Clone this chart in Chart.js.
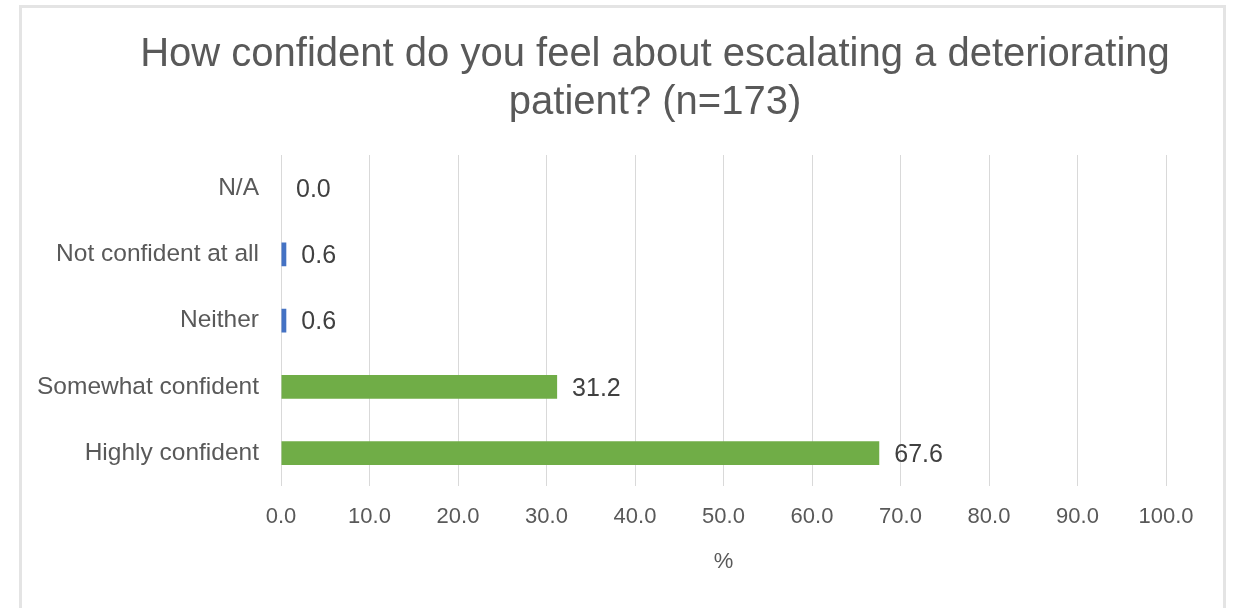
<!DOCTYPE html>
<html>
<head>
    <title>Escalation confidence</title>
    <script src="https://cdn.jsdelivr.net/npm/chart.js"></script>
    <style>
        body { margin: 0; overflow: hidden; background: #fff; }
        #frame {
            position: absolute; left: 19px; top: 5px;
            width: 1201px; height: 700px;
            border: 3px solid #e4e4e4;
        }
        #wrap { position: absolute; left: 0; top: 0; }
    </style>
</head>
<body>
    <div id="frame"></div>
    <div id="wrap">
        <canvas id="confChart" width="1310" height="608"></canvas>
    </div>

    <script>
        const chartTitle = ['How confident do you feel about escalating a deteriorating', 'patient? (n=173)'];
        const categories = ['N/A', 'Not confident at all', 'Neither', 'Somewhat confident', 'Highly confident'];
        const percentages = [0.0, 0.6, 0.6, 31.2, 67.6];
        const barColours = ['#4472c4', '#4472c4', '#4472c4', '#70ad47', '#70ad47'];
        const axisTitle = '%';

        const fontFamily = "'Liberation Sans', Arial, sans-serif";
        const textGrey = '#595959';

        // prints each value just past the end of its bar
        const valueLabels = {
            id: 'valueLabels',
            afterDatasetsDraw(chart) {
                const ctx = chart.ctx;
                const meta = chart.getDatasetMeta(0);
                ctx.save();
                ctx.font = '25px ' + fontFamily;
                ctx.fillStyle = '#404040';
                ctx.textAlign = 'left';
                ctx.textBaseline = 'middle';
                meta.data.forEach((bar, i) => {
                    ctx.fillText(percentages[i].toFixed(1), bar.x + 15, bar.y + 2);
                });
                ctx.restore();
            }
        };

        const ctx = document.getElementById('confChart').getContext('2d');
        const chart = new Chart(ctx, {
            type: 'bar',
            data: {
                labels: categories,
                datasets: [{
                    data: percentages,
                    backgroundColor: barColours,
                    barPercentage: 0.36,
                    categoryPercentage: 1.0
                }]
            },
            options: {
                indexAxis: 'y',
                responsive: false,
                animation: false,
                layout: { padding: { top: 0, left: 0, right: 0, bottom: 30 } },
                plugins: {
                    legend: { display: false },
                    tooltip: { enabled: false },
                    title: {
                        display: true,
                        text: chartTitle,
                        color: textGrey,
                        font: { family: fontFamily, size: 40, weight: 'normal', lineHeight: 1.2 },
                        padding: { top: 31, bottom: 28 }
                    }
                },
                scales: {
                    x: {
                        min: 0,
                        max: 100,
                        border: { display: false },
                        grid: { color: '#d9d9d9', lineWidth: 1, drawTicks: false },
                        ticks: {
                            stepSize: 10,
                            padding: 18,
                            color: textGrey,
                            font: { family: fontFamily, size: 22 },
                            maxRotation: 0,
                            callback: v => Number(v).toFixed(1)
                        },
                        title: {
                            display: true,
                            text: axisTitle,
                            color: textGrey,
                            font: { family: fontFamily, size: 22 },
                            padding: { top: 0, bottom: 3 }
                        },
                        // keep the plot's right edge clear of the frame
                        afterFit: scale => { scale.paddingRight = 144; }
                    },
                    y: {
                        border: { display: false },
                        grid: { display: false },
                        ticks: {
                            padding: 14,
                            color: textGrey,
                            font: { family: fontFamily, size: 24.5 }
                        },
                        afterFit: scale => { scale.width = 281; }
                    }
                }
            },
            plugins: [valueLabels]
        });
    </script>
</body>
</html>
